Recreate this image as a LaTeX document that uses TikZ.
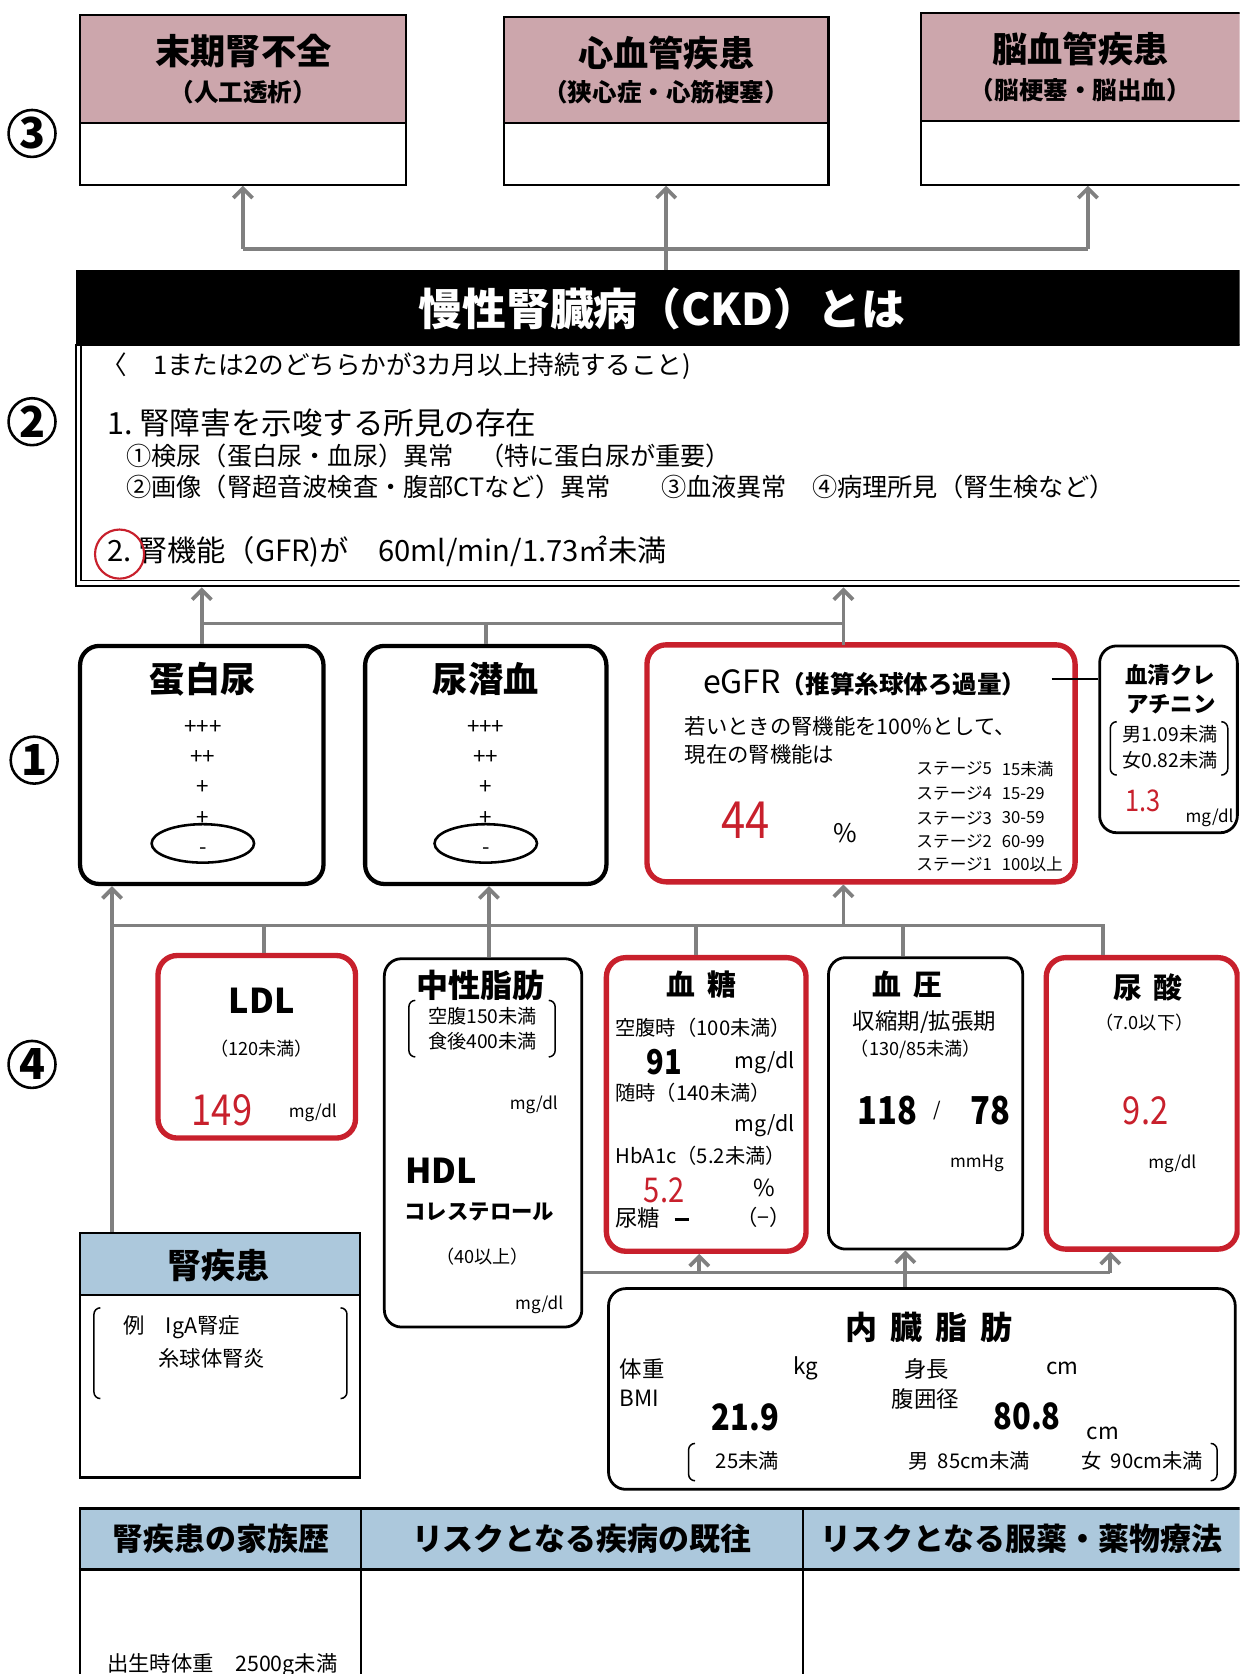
\documentclass[tikz,border=0pt]{standalone}
\usepackage{fontspec}
\setmainfont{Noto Sans CJK JP}
\newfontfamily\numf[FakeStretch=0.85]{Noto Sans CJK JP}
\usetikzlibrary{arrows.meta,fit,calc,shapes.geometric}
\definecolor{cred}{RGB}{200,32,44}
\definecolor{cgray}{RGB}{128,128,128}
\definecolor{cpink}{RGB}{204,166,172}
\definecolor{cblue}{RGB}{172,200,220}
\newcommand\fsz[1]{\fontsize{#1}{#1}\selectfont}
\newcommand\brpair[4]{%
  \draw[line width=0.7pt,rounded corners=3pt] (#1+6,#3) -- (#1,#3) -- (#1,#4) -- (#1+6,#4);
  \draw[line width=0.7pt,rounded corners=3pt] (#2-6,#3) -- (#2,#3) -- (#2,#4) -- (#2-6,#4);}
\begin{document}
\begin{tikzpicture}[x=0.5pt,y=-0.5pt,
  every node/.style={inner sep=0pt},
  conn/.style={draw=cgray,line width=1.75pt},
  arr/.style={conn,-{Straight Barb[length=4.5pt,width=9pt]}},
  blkbox/.style={draw=black,line width=2pt,rounded corners=9pt,inner sep=0pt},
  redbox/.style={draw=cred,line width=2.5pt,rounded corners=9pt,inner sep=0pt},
  thinbox/.style={draw=black,line width=1.3pt,rounded corners=8pt,inner sep=0pt},
  sqbox/.style={draw=black,line width=1pt,inner sep=0pt},
  numlbl/.style={circle,draw,line width=1.2pt,minimum size=22pt,inner sep=0pt,font=\bfseries\fsz{20}},
  hd/.style={font=\bfseries\fsz{16.5}},
  sub/.style={font=\bfseries\fsz{11.5}},
  rednum/.style={text=cred},
]
\clip (0,0) rectangle (1161,1568);
\fill[white] (0,0) rectangle (1161,1568);

% circled labels
\node[numlbl] (n3) at (30,125) {3};
\node[numlbl] (n2) at (30,395) {2};
\node[numlbl] (n1) at (32,712) {1};
\node[numlbl] (n4) at (30,997) {4};

% ---------- top boxes
\coordinate (h1) at (0,115);
\coordinate (h3) at (0,113);
\fill[cpink] (75,14) rectangle (380,115);
\node[sqbox,fit={(75,14)(380,173)}] (b1) {};
\draw[line width=1pt] (b1.west |- h1) -- (b1.east |- h1);
\node[hd] at (228,48) {末期腎不全};
\node[sub] at (228,86) {（人工透析）};

\fill[cpink] (472,16) rectangle (776,115);
\node[sqbox,fit={(472,16)(776,173)}] (b2) {};
\draw[line width=1pt] (b2.west |- h1) -- (b2.east |- h1);
\node[hd] at (624,50) {心血管疾患};
\node[sub] at (624,86) {（狭心症・心筋梗塞）};

\fill[cpink] (863,12) rectangle (1175,113);
\node[sqbox,fit={(863,12)(1175,173)}] (b3) {};
\draw[line width=1pt] (b3.west |- h3) -- (b3.east |- h3);
\node[hd] at (1012,46) {脳血管疾患};
\node[sub] at (1012,84) {（脳梗塞・脳出血）};

% ---------- CKD
\node[fill=black,fit={(71,253)(1175,323)},inner sep=0pt] (bar) {};
\node[text=white,font=\bfseries\fsz{20.5}] (bart) at (620,289) {慢性腎臓病（CKD）とは};
\node[draw,line width=1.2pt,fit={(71,323)(1175,549)},inner sep=0pt] (ckd) {};
\draw[line width=0.6pt] (76,323) -- (76,544) -- (1175,544);
\node[anchor=west,font=\fsz{12}] (l1) at (95,343) {〈　1または2のどちらかが3カ月以上持続すること)};
\node[anchor=west,font=\fsz{14.3}] (l2) at (100,396) {1.\ 腎障害を示唆する所見の存在};
\node[anchor=west,font=\fsz{11.8}] (l3) at (118,427) {①検尿（蛋白尿・血尿）異常　（特に蛋白尿が重要）};
\node[anchor=west,font=\fsz{11.8}] (l4) at (118,456) {②画像（腎超音波検査・腹部CTなど）異常　　③血液異常　④病理所見（腎生検など）};
\node[anchor=west,font=\fsz{13.7}] (l5) at (100,517) {2.\ 腎機能（GFR)が　60ml/min/1.73㎡未満};
\node[circle,draw=cred,line width=1pt,minimum size=23pt] (c2) at (112,519) {};

% ---------- row 1
\node[blkbox,fit={(75,605)(303,828)}] (tanpaku) {};
\node[hd] at (190,636) {蛋白尿};
\node[font=\fsz{10.5}] at (190,681) {+++};
\node[font=\fsz{10.5}] at (190,710) {++};
\node[font=\fsz{10.5}] at (190,738) {+};
\node[font=\fsz{10.5}] at (190,767) {+};
\node[draw,ellipse,line width=1.2pt,minimum width=48pt,minimum height=18pt] (el1) at (190,790) {};
\node[font=\fsz{10}] at (190,797) {-};

\node[blkbox,fit={(342,605)(568,828)}] (senketsu) {};
\node[hd] at (455,636) {尿潜血};
\node[font=\fsz{10.5}] at (455,681) {+++};
\node[font=\fsz{10.5}] at (455,710) {++};
\node[font=\fsz{10.5}] at (455,738) {+};
\node[font=\fsz{10.5}] at (455,767) {+};
\node[draw,ellipse,line width=1.2pt,minimum width=48pt,minimum height=18pt] (el2) at (455,790) {};
\node[font=\fsz{10}] at (455,797) {-};

\node[redbox,fit={(606,604)(1007,826)}] (egfr) {};
\node (egt) at (810,640) {{\fsz{15}eGFR}{\bfseries\fsz{11.5}（推算糸球体ろ過量）}};
\node[anchor=west,font=\fsz{10}] at (641,680) {若いときの腎機能を100\%として、};
\node[anchor=west,font=\fsz{10}] at (641,707) {現在の腎機能は};
\node[rednum,font=\numf\fsz{24}] at (698,768) {44};
\node[font=\fsz{12}] at (792,780) {\%};
\foreach \yy/\st/\vv in {720/5/15未満,743/4/15-29,766/3/30-59,788/2/60-99,810/1/100以上}{
  \node[anchor=west,font=\fsz{7.8}] at (858,\yy) {ステージ\st};
  \node[anchor=west,font=\fsz{7.8}] at (938,\yy) {\vv};
}
\node[thinbox,fit={(1030,605)(1159,780)}] (sc) {};
\coordinate (lnA) at (985,636);
\draw[line width=1pt] (lnA) -- (lnA -| sc.west);
\node[font=\bfseries\fsz{10.5}] at (1096,632) {血清クレ};
\node[font=\bfseries\fsz{10.5}] at (1097,660) {アチニン};
\brpair{1040}{1150}{676}{726}
\node[font=\fsz{9}] at (1096,688) {男1.09未満};
\node[font=\fsz{9}] at (1096,712) {女0.82未満};
\node[rednum,font=\numf\fsz{14}] at (1071,750) {1.3};
\node[font=\fsz{8}] at (1133,766) {mg/dl};

% ---------- row 4
\node[redbox,fit={(148,895)(333,1066)}] (ldl) {};
\node[font=\bfseries\fsz{16}] at (245,937) {LDL};
\node[font=\fsz{8.5}] at (245,982) {（120未満）};
\node[rednum,font=\numf\fsz{20}] at (208,1040) {149};
\node[font=\fsz{8}] at (293,1042) {mg/dl};

\node[thinbox,fit={(360,898)(545,1243)}] (chusei) {};
\node[font=\bfseries\fsz{15}] at (450,923) {中性脂肪};
\brpair{383}{520}{937}{990}
\node[font=\fsz{9}] at (452,952) {空腹150未満};
\node[font=\fsz{9}] at (452,975) {食後400未満};
\node[font=\fsz{8}] at (500,1035) {mg/dl};
\node[font=\bfseries\fsz{16}] at (413,1097) {HDL};
\node[font=\bfseries\fsz{10}] at (449,1135) {コレステロール};
\node[font=\fsz{8.5}] at (452,1177) {（40以上）};
\node[font=\fsz{8}] at (505,1222) {mg/dl};

\node[redbox,fit={(568,897)(755,1172)}] (kettou) {};
\node[font=\bfseries\fsz{13.5}] at (657,922) {血\hspace{0.4em}糖};
\node[anchor=west,font=\fsz{9.5}] at (576,963) {空腹時（100未満）};
\node[font=\bfseries\numf\fsz{16}] at (622,995) {91};
\node[font=\fsz{10}] at (716,995) {mg/dl};
\node[anchor=west,font=\fsz{9.5}] at (576,1024) {随時（140未満）};
\node[font=\fsz{10}] at (716,1054) {mg/dl};
\node[anchor=west,font=\fsz{9.5}] at (576,1083) {HbA1c（5.2未満）};
\node[rednum,font=\numf\fsz{16}] at (622,1115) {5.2};
\node[font=\fsz{11}] at (716,1113) {\%};
\node[anchor=west,font=\fsz{10.5}] at (576,1141) {尿糖};
\draw[line width=1.6pt] (632,1142) -- (645,1142);
\node[font=\fsz{10}] at (715,1140) {（−）};

\node[thinbox,fit={(776,897)(958,1170)}] (ketsuatsu) {};
\node[font=\bfseries\fsz{13.5}] at (850,922) {血\hspace{0.4em}圧};
\node[font=\fsz{10.5}] at (866,957) {収縮期/拡張期};
\node[font=\fsz{8.5}] at (858,983) {（130/85未満）};
\node[font=\bfseries\numf\fsz{18}] at (831,1040) {118};
\node[font=\fsz{9}] at (878,1040) {/};
\node[font=\bfseries\numf\fsz{18}] at (928,1040) {78};
\node[font=\fsz{8}] at (915,1090) {mmHg};

\node[redbox,fit={(980,897)(1159,1170)}] (nyousan) {};
\node[font=\bfseries\fsz{13.5}] at (1075,925) {尿\hspace{0.4em}酸};
\node[font=\fsz{8.5}] at (1072,958) {（7.0以下）};
\node[rednum,font=\numf\fsz{18}] at (1073,1040) {9.2};
\node[font=\fsz{8}] at (1098,1090) {mg/dl};

\node[thinbox,fit={(570,1207)(1157,1395)}] (naizo) {};
\node[font=\bfseries\fsz{15}] at (870,1243) {内\hspace{0.4em}臓\hspace{0.4em}脂\hspace{0.4em}肪};
\node[anchor=west,font=\fsz{10.5}] at (580,1282) {体重};
\node[font=\fsz{10.5}] at (755,1282) {kg};
\node[font=\fsz{10.5}] at (868,1282) {身長};
\node[font=\fsz{10.5}] at (995,1282) {cm};
\node[anchor=west,font=\fsz{10.5}] at (580,1310) {BMI};
\node[font=\bfseries\numf\fsz{17}] at (698,1328) {21.9};
\node[font=\fsz{10.5}] at (867,1310) {腹囲径};
\node[font=\bfseries\numf\fsz{17}] at (962,1327) {80.8};
\node[font=\fsz{10.5}] at (1033,1343) {cm};
\brpair{645}{1140}{1352}{1387}
\node[font=\fsz{9.5}] at (700,1368) {25未満};
\node[font=\fsz{9.5}] at (908,1368) {男\ \ 85cm未満};
\node[font=\fsz{9.5}] at (1070,1368) {女\ \ 90cm未満};

% kidney disease box
\fill[cblue] (75,1155) rectangle (337,1213);
\node[draw,line width=1.2pt,fit={(75,1155)(337,1384)}] (jin) {};
\coordinate (h4) at (0,1213);
\draw[line width=1.2pt] (jin.west |- h4) -- (jin.east |- h4);
\node[font=\bfseries\fsz{16}] at (205,1185) {腎疾患};
\brpair{88}{325}{1225}{1310}
\node[anchor=west,font=\fsz{10}] at (115,1243) {例\quad IgA腎症};
\node[anchor=west,font=\fsz{10}] at (148,1272) {糸球体腎炎};

% bottom table
\fill[cblue] (75,1413) rectangle (1175,1470);
\node[draw,line width=1.2pt,fit={(75,1413)(1175,1600)}] (tbl) {};
\coordinate (h5) at (0,1470);
\draw[line width=1.2pt] (tbl.west |- h5) -- (tbl.east |- h5);
\coordinate (v1) at (338,0);
\coordinate (v2) at (752,0);
\draw[line width=1.2pt] (v1 |- tbl.north) -- (v1 |- tbl.south);
\draw[line width=1.2pt] (v2 |- tbl.north) -- (v2 |- tbl.south);
\node[font=\bfseries\fsz{14.5}] at (207,1441) {腎疾患の家族歴};
\node[font=\bfseries\fsz{14.5}] at (545,1441) {リスクとなる疾病の既往};
\node[font=\bfseries\fsz{14.5}] at (957,1441) {リスクとなる服薬・薬物療法};
\node[anchor=west,font=\fsz{10}] at (100,1560) {出生時体重　2500g未満};

% ---------- connectors
\coordinate (jt) at (0,233);
\draw[conn] (b1.south |- jt) -- (b3.south |- jt);
\draw[arr] (b1.south |- jt) -- (b1.south);
\draw[arr] (b3.south |- jt) -- (b3.south);
\draw[arr] (b2.south |- bar.north) -- (b2.south);

\coordinate (jm) at (0,584);
\coordinate (egN) at (790,604);
\draw[arr] (tanpaku.north) -- (tanpaku.north |- ckd.south);
\draw[conn] (senketsu.north) -- (senketsu.north |- jm);
\draw[conn] (tanpaku.north |- jm) -- (egN |- jm);
\draw[arr] (egN) -- (egN |- ckd.south);

\coordinate (jl) at (0,867);
\coordinate (jx) at (105,0);
\coordinate (xl) at (247,0);
\coordinate (xc) at (458,0);
\coordinate (xk) at (652,0);
\coordinate (xa) at (846,0);
\coordinate (xn) at (1033,0);
\draw[arr] (jx |- jin.north) -- (jx |- tanpaku.south);
\draw[conn] (jx |- jl) -- (xn |- jl) -- (xn |- nyousan.north);
\draw[conn] (xl |- jl) -- (xl |- ldl.north);
\draw[arr] (xc |- chusei.north) -- (xc |- senketsu.south);
\draw[conn] (xk |- jl) -- (xk |- kettou.north);
\draw[conn] (xa |- jl) -- (xa |- ketsuatsu.north);
\draw[arr] (egN |- jl) -- (egN |- egfr.south);

\coordinate (jb) at (0,1192);
\coordinate (xk2) at (655,0);
\coordinate (xa2) at (848,0);
\coordinate (xn2) at (1040,0);
\draw[conn] (chusei.east |- jb) -- (xn2 |- jb);
\draw[arr] (xk2 |- jb) -- (xk2 |- kettou.south);
\draw[arr] (xa2 |- naizo.north) -- (xa2 |- ketsuatsu.south);
\draw[arr] (xn2 |- jb) -- (xn2 |- nyousan.south);
\end{tikzpicture}
\end{document}
